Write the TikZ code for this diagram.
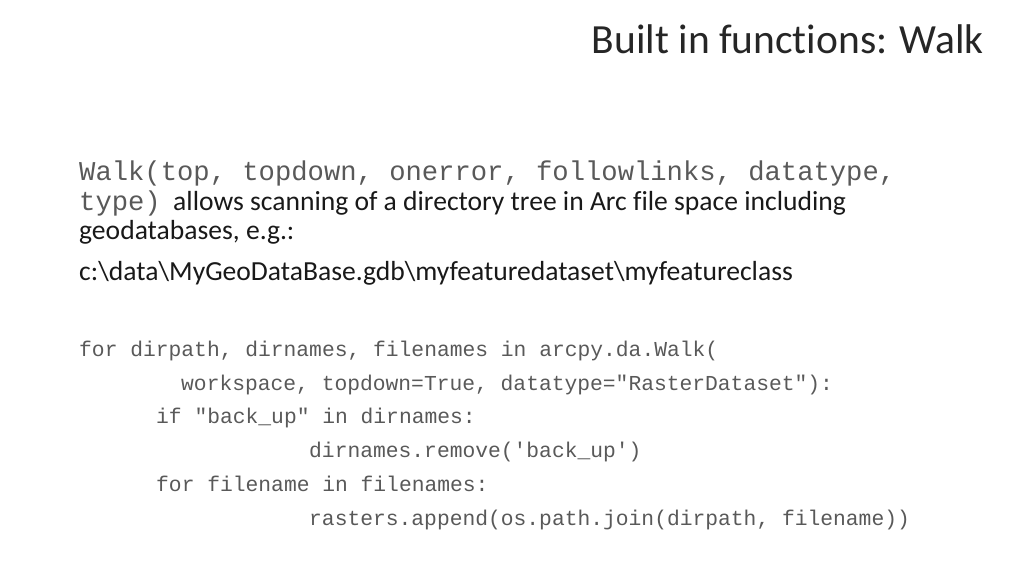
\documentclass[tikz,border=0pt]{standalone}
\usepackage{fontspec}
\setmainfont{Carlito}[Ligatures=NoCommon]
\setmonofont{Liberation Mono}
\newfontfamily\titlefont{Carlito}[Ligatures=NoCommon]
\begin{document}
\begin{tikzpicture}[x=1pt,y=-1pt]
\tikzset{code/.style={anchor=base west,inner sep=0pt,font=\ttfamily\fontsize{27.2}{30}\selectfont,text=black!65},
	body/.style={anchor=base west,inner sep=0pt,font=\fontsize{27.6}{30}\selectfont,text=black!90},
	small code/.style={anchor=base west,inner sep=0pt,font=\ttfamily\fontsize{21.3}{26}\selectfont,text=black!65}}
\useasboundingbox (0,0) rectangle (1024,576);
\node[anchor=base east,inner sep=0pt,font=\titlefont\fontsize{41.5}{44}\selectfont,text=black!85] (title) at (984,53) {Built in functions: Walk};

	\node[code] (sig1) at (79,180) {Walk(top, topdown, onerror, followlinks, datatype,};
	\node[code] (sig2) at (79,210) {type)};
	\node[body] (desc1) at ([xshift=12pt]sig2.base east) {allows scanning of a directory tree in Arc file space including};
	\node[body] (desc2) at (79,239) {geodatabases, e.g.:};
	\node[body] (path) at (79,280) {c:\textbackslash data\textbackslash MyGeoDataBase.gdb\textbackslash myfeaturedataset\textbackslash myfeatureclass};

	\node[small code] (for1) at (79,356) {for dirpath, dirnames, filenames in arcpy.da.Walk(};
	\node[small code] (args) at (181,390) {workspace, topdown=True, datatype="RasterDataset"):};
	\node[small code] (if1) at (156,423) {if "back\_up" in dirnames:};
	\node[small code] (rm) at (309,457) {dirnames.remove('back\_up')};
	\node[small code] (for2) at (156,491) {for filename in filenames:};
	\node[small code] (app) at (309,525) {rasters.append(os.path.join(dirpath, filename))};
\end{tikzpicture}
\end{document}
